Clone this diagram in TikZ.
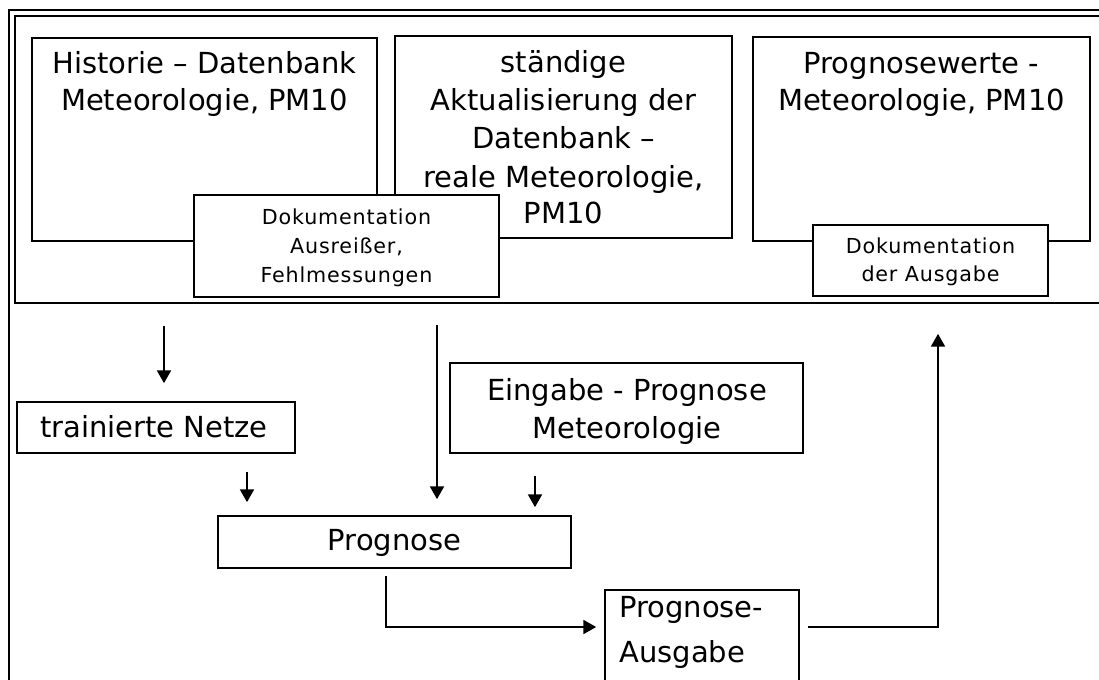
\documentclass[tikz,border=0pt]{standalone}
\usepackage{fontspec}
\setmainfont{DejaVu Sans}
\newfontfamily\smallfont[LetterSpace=4]{DejaVu Sans}
\usetikzlibrary{arrows.meta,fit}
\begin{document}
\begin{tikzpicture}[x=0.75pt,y=-0.75pt,
  box/.style={draw=black, line width=1.3pt, inner sep=0pt},
  big/.style={font=\fontsize{21.75}{26}\selectfont, inner sep=0pt, anchor=base},
  small/.style={font=\smallfont\fontsize{15.5}{18}\selectfont, inner sep=0pt, anchor=base},
  arr/.style={line width=1.1pt, -{Triangle[width=10.5pt,length=9.5pt]}}
]
\useasboundingbox (0,0) rectangle (1099,679);
\clip (0,0) rectangle (1099,679);
\fill[white] (0,0) rectangle (1099,679);

% table frame
\node[box, fit={(9,10) (1115,700)}] (frame) {};
\node[box, fit={(15,16) (1108,303)}] (cell) {};

% upper boxes
\node[box, fit={(32,38) (377,241)}] (hist) {};
\node[box, fit={(395,36) (732,238)}] (akt) {};
\node[box, fit={(753,37) (1090,241)}] (pw) {};
\node[box, fill=white, fit={(194,195) (499,297)}] (dok1) {};
\node[box, fill=white, fit={(813,225) (1048,296)}] (dok2) {};

% lower boxes
\node[box, fit={(17,402) (295,453)}] (netze) {};
\node[box, fit={(450,363) (803,453)}] (eing) {};
\node[box, fit={(218,516) (571,568)}] (prog) {};
\node[box, fit={(605,590) (799,705)}] (ausg) {};

% texts
\node[big] (h1) at (204.5,73) {Historie – Datenbank};
\node[big] (h2) at (204.5,110) {Meteorologie, PM10};

\node[big] (a1) at (563.5,72) {ständige};
\node[big] (a2) at (563.5,110) {Aktualisierung der};
\node[big] (a3) at (563.5,148) {Datenbank –};
\node[big] (a4) at (563.5,187) {reale Meteorologie,};
\node[big] (a5) at (563.5,223) {PM10};

\node[big] (p1) at (921.5,73) {Prognosewerte -};
\node[big] (p2) at (921.5,110) {Meteorologie, PM10};

\node[small] (d1) at (346.5,224) {Dokumentation};
\node[small] (d2) at (346.5,253) {Ausreißer,};
\node[small] (d3) at (346.5,282) {Fehlmessungen};

\node[small] (e1) at (930.5,253) {Dokumentation};
\node[small] (e2) at (930.5,281) {der Ausgabe};

\node[big] (n1) at (154,437) {trainierte Netze};

\node[big] (g1) at (627,400) {Eingabe - Prognose};
\node[big] (g2) at (627,438) {Meteorologie};

\node[big] (r1) at (394.5,550) {Prognose};

\node[big, anchor=base west] (o1) at (619,617) {Prognose-};
\node[big, anchor=base west] (o2) at (619,662) {Ausgabe};

% connectors
\coordinate (xa) at (164,0);
\coordinate (xb) at (247,0);
\coordinate (xc) at (437,0);
\coordinate (xd) at (535,0);
\coordinate (k1) at (386,627);
\coordinate (k2) at (938,627);

\draw[arr, shorten <=16.5pt, shorten >=13.5pt] (cell.south -| xa) -- (netze.north -| xa);
\draw[arr, shorten <=13.5pt, shorten >=9.75pt] (netze.south -| xb) -- (prog.north -| xb);
\draw[arr, shorten <=15.75pt, shorten >=12pt] (cell.south -| xc) -- (prog.north -| xc);
\draw[arr, shorten <=16.5pt, shorten >=6pt] (eing.south -| xd) -- (prog.north -| xd);
\draw[arr, shorten <=5.25pt, shorten >=6pt] (prog.south -| k1) |- (ausg.west |- k1);
\draw[arr, shorten <=6pt, shorten >=22.5pt] (ausg.east |- k2) -- (k2) -- (cell.south -| k2);
\end{tikzpicture}
\end{document}
